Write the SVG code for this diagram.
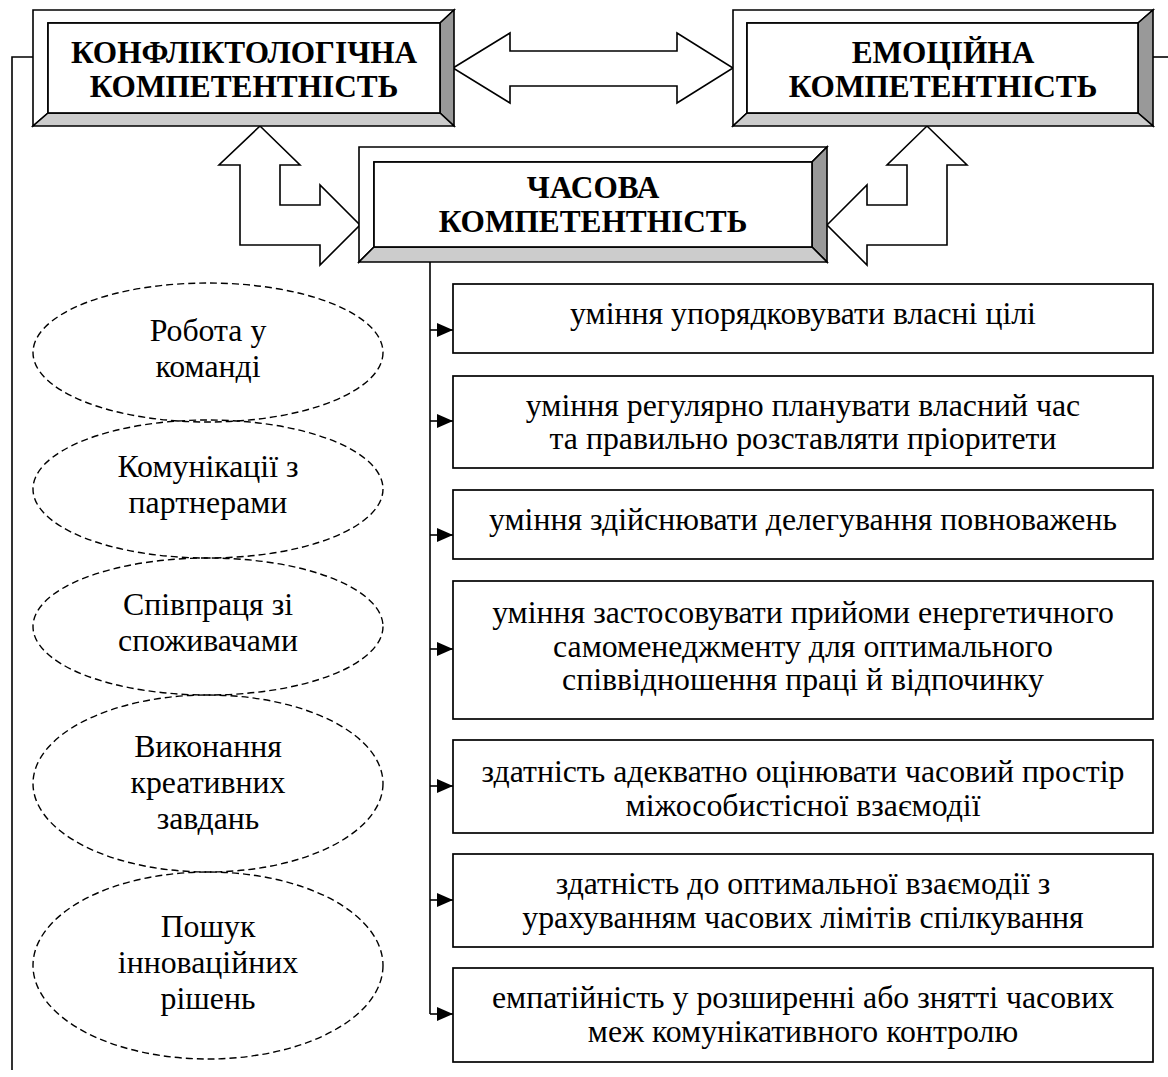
<svg xmlns="http://www.w3.org/2000/svg" width="1168" height="1077" viewBox="0 0 1168 1077">
<defs>
<style>
.ln{fill:none;stroke:#000;stroke-width:1.6}
.bev{stroke:#000;stroke-width:1.6;stroke-linejoin:miter}
.box{fill:#fff;stroke:#000;stroke-width:1.7}
.ell{fill:none;stroke:#000;stroke-width:1.4;stroke-dasharray:7 4}
.big{fill:#fff;stroke:#000;stroke-width:1.6;stroke-linejoin:miter}
.h{font-family:"Liberation Serif","Times New Roman",serif;font-weight:bold;font-size:31.3px;text-anchor:middle;fill:#000}
.t{font-family:"Liberation Serif","Times New Roman",serif;font-size:31.8px;text-anchor:middle;fill:#000}
</style>
<marker id="ah" viewBox="0 0 16 14" refX="16" refY="7" markerWidth="16" markerHeight="14" markerUnits="userSpaceOnUse" orient="auto">
<path d="M0,0 L16,7 L0,14 Z" fill="#000"/>
</marker>
</defs>
<rect width="1168" height="1077" fill="#fff"/>

<g id="connectors">
<polyline class="ln" points="33,57 12,57 12,1070"/>
<line class="ln" x1="1153" y1="57" x2="1168" y2="57"/>
<line class="ln" x1="430" y1="262" x2="430" y2="1014"/>
<line class="ln" x1="430" y1="330" x2="453" y2="330" marker-end="url(#ah)"/>
<line class="ln" x1="430" y1="421" x2="453" y2="421" marker-end="url(#ah)"/>
<line class="ln" x1="430" y1="535" x2="453" y2="535" marker-end="url(#ah)"/>
<line class="ln" x1="430" y1="649" x2="453" y2="649" marker-end="url(#ah)"/>
<line class="ln" x1="430" y1="786" x2="453" y2="786" marker-end="url(#ah)"/>
<line class="ln" x1="430" y1="900" x2="453" y2="900" marker-end="url(#ah)"/>
<line class="ln" x1="430" y1="1014" x2="453" y2="1014" marker-end="url(#ah)"/>
<polygon class="big" points="453,68 510,33 510,51 677,51 677,33 733,68 677,103 677,86 510,86 510,103"/>
<polygon class="big" points="260,126 300,165 280,165 280,205 320,205 320,185 360,225 320,265 320,245 240,245 240,165 219,165"/>
<polygon class="big" points="827,225 867,185 867,205 907,205 907,165 887,165 927,126 967,165 947,165 947,245 867,245 867,265"/>
</g>

<g id="konflikt">
<polygon class="bev" fill="#fff" points="33,10 454,10 440,23 48,23 48,113 33,126"/>
<polygon class="bev" fill="#999" points="454,10 454,126 440,113 440,23"/>
<polygon class="bev" fill="#ccc" points="33,126 454,126 440,113 48,113"/>
<rect class="box" x="48" y="23" width="392" height="90"/>
<text class="h" x="244" y="63">КОНФЛІКТОЛОГІЧНА</text>
<text class="h" x="244" y="97">КОМПЕТЕНТНІСТЬ</text>
</g>

<g id="emotsiyna">
<polygon class="bev" fill="#fff" points="733,10 1153,10 1138,23 747,23 747,113 733,126"/>
<polygon class="bev" fill="#999" points="1153,10 1153,126 1138,113 1138,23"/>
<polygon class="bev" fill="#ccc" points="733,126 1153,126 1138,113 747,113"/>
<rect class="box" x="747" y="23" width="391" height="90"/>
<text class="h" x="943" y="63">ЕМОЦІЙНА</text>
<text class="h" x="943" y="97">КОМПЕТЕНТНІСТЬ</text>
</g>

<g id="chasova">
<polygon class="bev" fill="#fff" points="359,147 827,147 812,162 374,162 374,247 359,262"/>
<polygon class="bev" fill="#999" points="827,147 827,262 812,247 812,162"/>
<polygon class="bev" fill="#ccc" points="359,262 827,262 812,247 374,247"/>
<rect class="box" x="374" y="162" width="438" height="85"/>
<text class="h" x="593" y="198">ЧАСОВА</text>
<text class="h" x="593" y="232">КОМПЕТЕНТНІСТЬ</text>
</g>

<g id="e1"><ellipse class="ell" cx="208" cy="352.5" rx="175" ry="69.5"/>
<text class="t" x="208" y="341">Робота у</text><text class="t" x="208" y="377">команді</text></g>
<g id="e2"><ellipse class="ell" cx="208" cy="489" rx="175" ry="69"/>
<text class="t" x="208" y="477">Комунікації з</text><text class="t" x="208" y="513">партнерами</text></g>
<g id="e3"><ellipse class="ell" cx="208" cy="626.5" rx="175" ry="68.5"/>
<text class="t" x="208" y="615">Співпраця зі</text><text class="t" x="208" y="651">споживачами</text></g>
<g id="e4"><ellipse class="ell" cx="208" cy="783.5" rx="175" ry="88.5"/>
<text class="t" x="208" y="757">Виконання</text><text class="t" x="208" y="793">креативних</text><text class="t" x="208" y="829">завдань</text></g>
<g id="e5"><ellipse class="ell" cx="208" cy="965.5" rx="175" ry="93.5"/>
<text class="t" x="208" y="937">Пошук</text><text class="t" x="208" y="973">інноваційних</text><text class="t" x="208" y="1009">рішень</text></g>

<g id="b1"><rect class="box" x="453" y="284" width="700" height="69"/>
<text class="t" x="803" y="324">уміння упорядковувати власні цілі</text></g>
<g id="b2"><rect class="box" x="453" y="376" width="700" height="92"/>
<text class="t" x="803" y="416">уміння регулярно планувати власний час</text>
<text class="t" x="803" y="449">та правильно розставляти пріоритети</text></g>
<g id="b3"><rect class="box" x="453" y="490" width="700" height="69"/>
<text class="t" x="803" y="530">уміння здійснювати делегування повноважень</text></g>
<g id="b4"><rect class="box" x="453" y="581" width="700" height="138"/>
<text class="t" x="803" y="623">уміння застосовувати прийоми енергетичного</text>
<text class="t" x="803" y="657">самоменеджменту для оптимального</text>
<text class="t" x="803" y="690">співвідношення праці й відпочинку</text></g>
<g id="b5"><rect class="box" x="453" y="740" width="700" height="93"/>
<text class="t" x="803" y="782">здатність адекватно оцінювати часовий простір</text>
<text class="t" x="803" y="816">міжособистісної взаємодії</text></g>
<g id="b6"><rect class="box" x="453" y="854" width="700" height="93"/>
<text class="t" x="803" y="894">здатність до оптимальної взаємодії з</text>
<text class="t" x="803" y="928">урахуванням часових лімітів спілкування</text></g>
<g id="b7"><rect class="box" x="453" y="968" width="700" height="94"/>
<text class="t" x="803" y="1008">емпатійність у розширенні або знятті часових</text>
<text class="t" x="803" y="1042">меж комунікативного контролю</text></g>
</svg>
